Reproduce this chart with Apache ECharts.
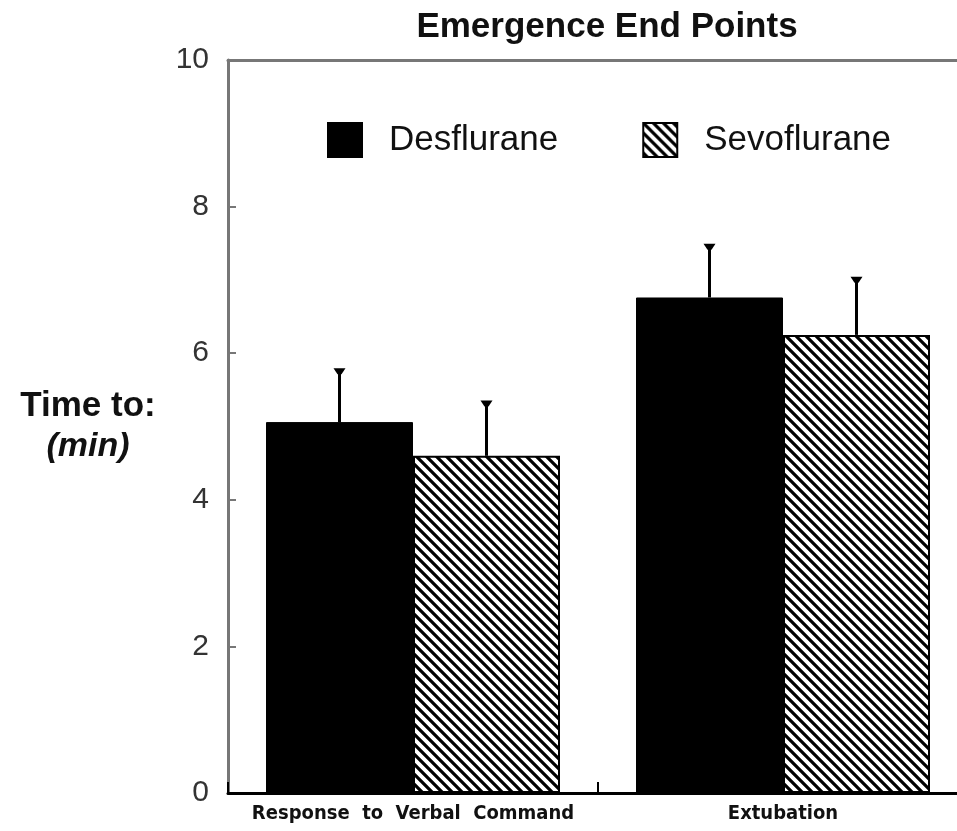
<!DOCTYPE html>
<html>
<head>
<meta charset="utf-8">
<script src="https://cdn.jsdelivr.net/npm/echarts@6/dist/echarts.min.js"></script>
<style>
  html, body { margin: 0; padding: 0; background: #fff; overflow: hidden; }
  /* 右侧坐标框超出画面一点，和原图一致 */
  #chart { width: 968px; height: 831px; }
</style>
</head>
<body>
<div id="chart"></div>
<script>
// 数据
const categories = ['Response  to  Verbal  Command', 'Extubation'];
const desflurane = [5.06, 6.76];
const desfluraneSD = [0.72, 0.72];
const sevoflurane = [4.60, 6.25];
const sevofluraneSD = [0.74, 0.78];
const yMin = 0, yMax = 10, yStep = 2;

const BAR_W = 147;
const FONT = '"Liberation Sans", Arial, Helvetica, sans-serif';

// 斜线填充
function hatch() {
  const c = document.createElement('canvas');
  c.width = 10; c.height = 10;
  const ctx = c.getContext('2d');
  ctx.fillStyle = '#fff';
  ctx.fillRect(0, 0, 10, 10);
  ctx.strokeStyle = '#000';
  ctx.lineWidth = 3.2;
  ctx.beginPath();
  ctx.moveTo(-5, -5); ctx.lineTo(15, 15);
  ctx.moveTo(-5, 5);  ctx.lineTo(5, 15);
  ctx.moveTo(5, -5);  ctx.lineTo(15, 5);
  ctx.stroke();
  return c;
}

// 误差线（只向上）
function errorSeries(name, means, sds, side) {
  return {
    name: name,
    type: 'custom',
    z: 5,
    data: means.map((m, i) => [i, m, m + sds[i]]),
    encode: { x: 0, y: [1, 2] },
    renderItem: (params, api) => {
      const i = api.value(0);
      const base = api.coord([i, api.value(1)]);
      const top = api.coord([i, api.value(2)]);
      const cx = base[0] + side * BAR_W / 2;
      const ty = top[1];
      return {
        type: 'group',
        children: [
          { type: 'line', shape: { x1: cx, y1: base[1], x2: cx, y2: ty }, style: { stroke: '#000', lineWidth: 3 } },
          { type: 'polygon', shape: { points: [[cx - 6, ty - 1], [cx + 6, ty - 1], [cx + 2, ty + 5], [cx - 2, ty + 5]] }, style: { fill: '#000' } }
        ]
      };
    }
  };
}

const chart = echarts.init(document.getElementById('chart'), null, { renderer: 'canvas' });
chart.setOption({
  backgroundColor: '#fff',
  animation: false,
  title: {
    text: 'Emergence End Points',
    left: 602,
    textAlign: 'center',
    top: 5,
    textStyle: { fontFamily: FONT, fontWeight: 'bold', fontSize: 35, color: '#111' }
  },
  legend: {
    data: ['Desflurane', 'Sevoflurane'],
    left: 322,
    top: 117,
    icon: 'rect',
    itemWidth: 34,
    itemHeight: 34,
    itemGap: 84,
    textStyle: { fontFamily: FONT, fontSize: 35, color: '#111', padding: [0, 0, 0, 22] }
  },
  grid: { left: 228, top: 60, right: 0, bottom: 38, containLabel: false },
  xAxis: [{
    type: 'category',
    data: categories,
    position: 'bottom',
    z: 10,
    axisLine: { lineStyle: { color: '#000', width: 3 } },
    axisTick: { show: true, interval: 0, alignWithLabel: false, inside: true, length: 11, lineStyle: { color: '#000', width: 2 } },
    axisLabel: {
      interval: 0,
      margin: 11,
      fontFamily: '"DejaVu Sans Condensed", "Liberation Sans Narrow", "DejaVu Sans", sans-serif',
      fontWeight: 'bold',
      fontSize: 20,
      color: '#111'
    }
  }, {
    type: 'category',
    data: categories,
    position: 'top',
    axisLine: { lineStyle: { color: '#777', width: 3 } },
    axisTick: { show: false },
    axisLabel: { show: false }
  }],
  yAxis: {
    type: 'value',
    min: yMin,
    max: yMax,
    interval: yStep,
    name: '{a|Time to:}\n{b|(min)}',
    nameLocation: 'middle',
    nameRotate: 0,
    nameGap: 140,
    nameTextStyle: {
      align: 'center',
      rich: {
        a: { fontFamily: FONT, fontWeight: 'bold', fontSize: 35, color: '#111', lineHeight: 40 },
        b: { fontFamily: FONT, fontWeight: 'bold', fontStyle: 'italic', fontSize: 34, color: '#111', lineHeight: 40 }
      }
    },
    axisLine: { show: true, lineStyle: { color: '#777', width: 3 } },
    axisTick: { show: true, inside: true, length: 8, lineStyle: { color: '#777', width: 2 } },
    axisLabel: { margin: 19, fontFamily: FONT, fontSize: 30, color: '#333' },
    splitLine: { show: false }
  },
  series: [{
    name: 'Desflurane',
    type: 'bar',
    data: desflurane,
    barWidth: BAR_W,
    barGap: '0%',
    itemStyle: { color: '#000', borderColor: '#000', borderWidth: 1 }
  }, {
    name: 'Sevoflurane',
    type: 'bar',
    data: sevoflurane,
    barWidth: BAR_W,
    barGap: '0%',
    itemStyle: { color: { image: hatch(), repeat: 'repeat' }, borderColor: '#000', borderWidth: 2 }
  },
  errorSeries('Desflurane SD', desflurane, desfluraneSD, -1),
  errorSeries('Sevoflurane SD', sevoflurane, sevofluraneSD, 1)
  ]
});
window.addEventListener('resize', () => chart.resize());
</script>
</body>
</html>
